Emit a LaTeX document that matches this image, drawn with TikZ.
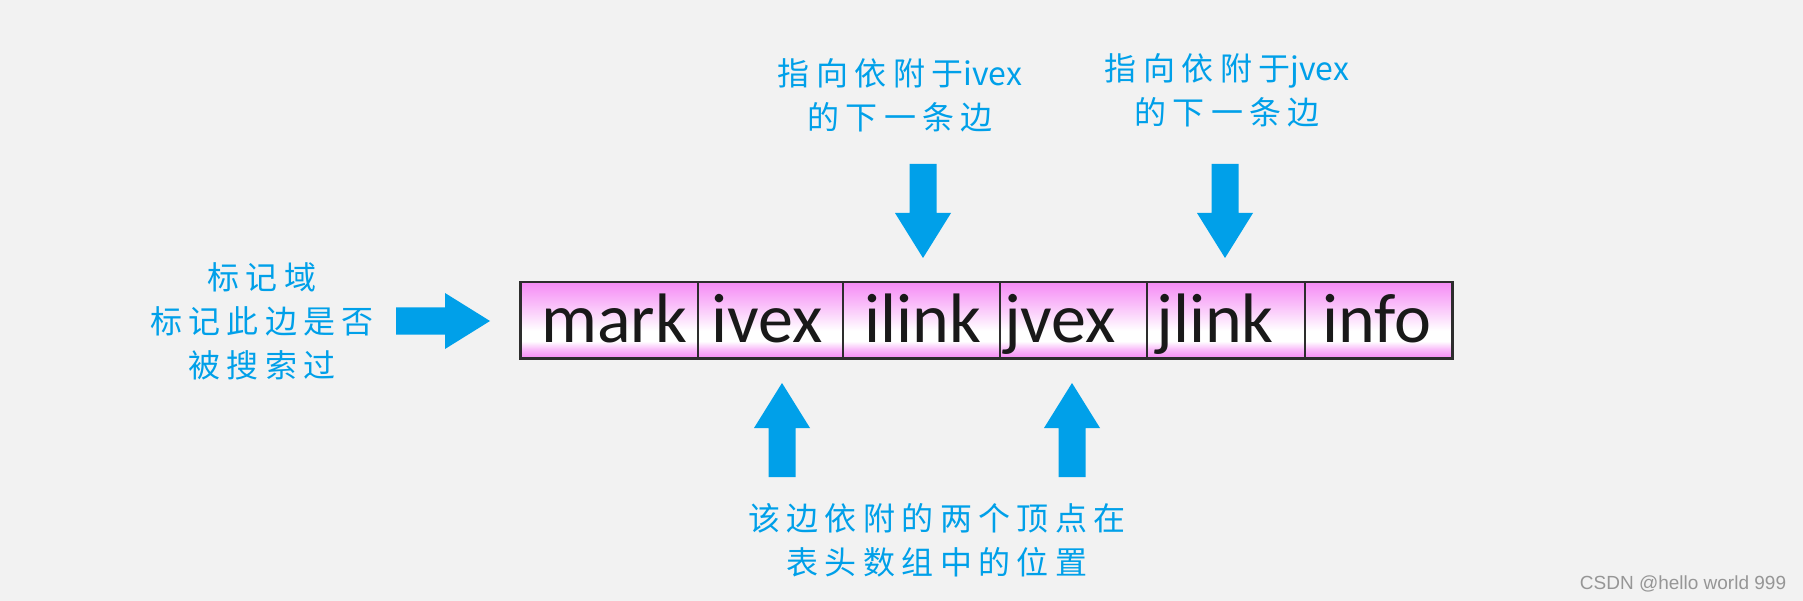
\documentclass[tikz,border=0pt]{standalone}
\usepackage{fontspec}
\newfontfamily\cjk[LetterSpace=20]{Noto Sans CJK SC}
\newfontfamily\cjkn{Noto Sans CJK SC}
\newfontfamily\cellfont{Carlito}
\newfontfamily\wmfont{Liberation Sans}
\definecolor{bg}{RGB}{242,242,242}
\definecolor{ablue}{RGB}{0,160,233}
\definecolor{pk}{RGB}{245,140,245}
\definecolor{framec}{RGB}{45,45,45}
\definecolor{wmgray}{RGB}{150,150,150}
\pgfdeclareverticalshading{cellshade}{100bp}{color(0bp)=(pk); color(25bp)=(pk); color(31bp)=(pk!55); color(36bp)=(white); color(43bp)=(white); color(60bp)=(pk!55); color(75bp)=(pk); color(100bp)=(pk)}
\tikzset{
  cell/.style={draw=framec, line width=1.5pt, shading=cellshade, minimum height=75, inner sep=0pt, anchor=north west},
  celltext/.style={font=\cellfont\fontsize{70}{70}\selectfont, text=black!90, anchor=base, inner sep=0pt},
  lbl/.style={font=\cjk\fontsize{32}{44}\selectfont, text=ablue, align=center, inner sep=0pt},
  blockarrow/.pic={\fill[ablue] (0,-13.5) -- (49,-13.5) -- (49,-28) -- (94,0) -- (49,28) -- (49,13.5) -- (0,13.5) -- cycle;}
}
\begin{document}
\begin{tikzpicture}[x=1pt, y=-1pt]
\useasboundingbox (0,0) rectangle (1803,601);
\fill[bg] (0,0) rectangle (1803,601);
% record cells
\node[cell, minimum width=177] (c1) at (520,282) {};
\node[cell, minimum width=145] (c2) at (697,282) {};
\node[cell, minimum width=157] (c3) at (842,282) {};
\node[cell, minimum width=147] (c4) at (999,282) {};
\node[cell, minimum width=158] (c5) at (1146,282) {};
\node[cell, minimum width=147] (c6) at (1304,282) {};
\draw[framec, line width=2.5pt] (c1.north west) rectangle (c6.south east);
% cell texts
\node[celltext] (t1) at (614,342) {mark};
\node[celltext] (t2) at (767,342) {ivex};
\node[celltext] (t3) at (923,342) {ilink};
\node[celltext] (t4) at (1060,342) {jvex};
\node[celltext] (t5) at (1215,342) {jlink};
\node[celltext] (t6) at (1377,342) {info};
% labels
\node[lbl] (lmark) at (262,321) {标记域\\标记此边是否\\被搜索过};
\node[lbl] (lilink) at (900,95) {指向依附于{\cjkn ivex}\\的下一条边};
\node[lbl] (ljlink) at (1227,90) {指向依附于{\cjkn jvex}\\的下一条边};
\node[lbl] (lvex) at (937,540) {该边依附的两个顶点在\\表头数组中的位置};
% block arrows
\pic at (396,321) {blockarrow};
\pic[rotate=-90] at (923,164) {blockarrow};
\pic[rotate=-90] at (1225,164) {blockarrow};
\pic[rotate=90] at (782,477) {blockarrow};
\pic[rotate=90] at (1072,477) {blockarrow};
% watermark
\node[font=\wmfont\fontsize{19}{19}\selectfont, text=wmgray, inner sep=0pt] (wm) at (1683,584) {CSDN @hello world 999};
\end{tikzpicture}
\end{document}
